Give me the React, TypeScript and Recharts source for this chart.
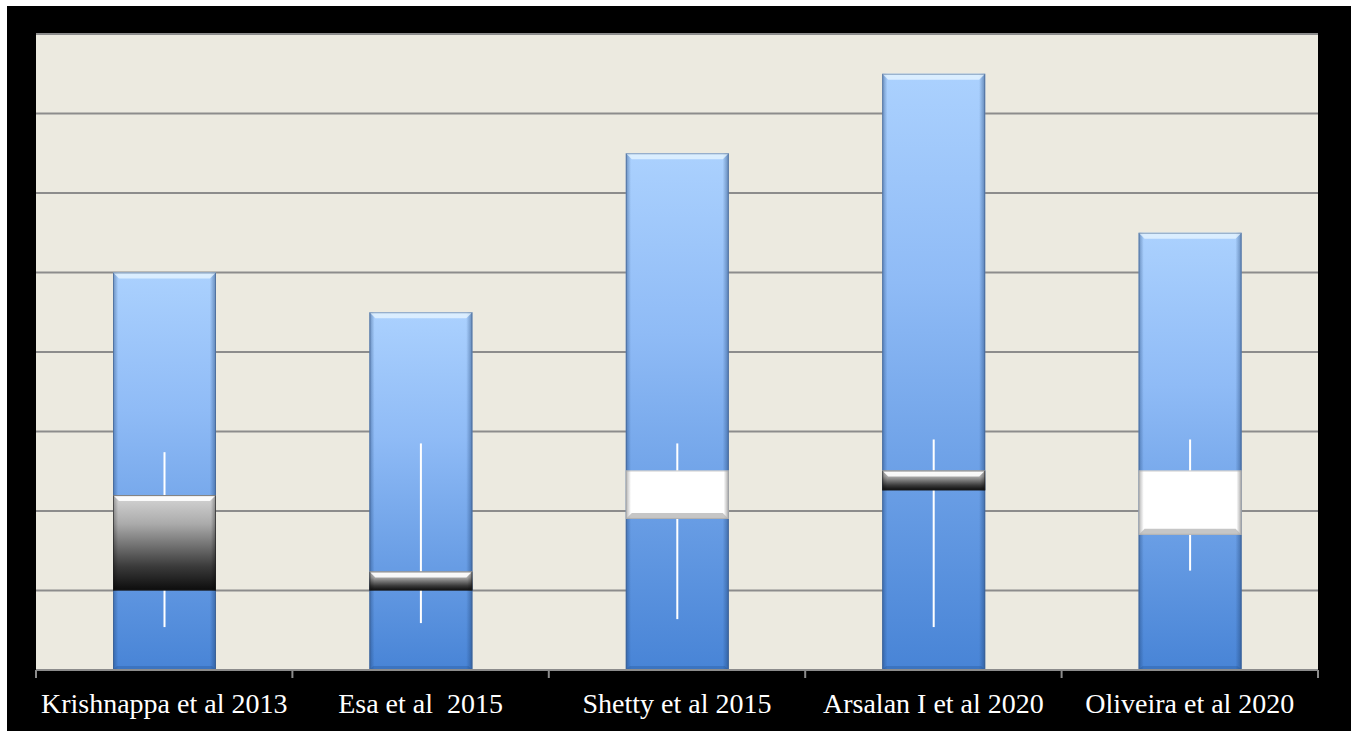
import React from "react";
import { ComposedChart, Bar, XAxis, YAxis, CartesianGrid } from "recharts";

// study labels along the bottom axis
const studies = [
  "Krishnappa et al 2013",
  "Esa et al  2015",
  "Shetty et al 2015",
  "Arsalan I et al 2020",
  "Oliveira et al 2020",
];

// blue "volume" columns
const totals = [5.0, 4.5, 6.5, 7.5, 5.5];
// open / close boxes and high / low whiskers
const opens = [2.2, 1.24, 1.9, 2.51, 1.7];
const closes = [1.0, 1.0, 2.51, 2.26, 2.51];
const highs = [2.74, 2.85, 2.85, 2.9, 2.9];
const lows = [0.54, 0.59, 0.64, 0.54, 1.25];

const yTicks = [0, 1, 2, 3, 4, 5, 6, 7, 8];

const chartData = studies.map((name, i) => ({
  name,
  total: totals[i],
  box: [Math.min(opens[i], closes[i]), Math.max(opens[i], closes[i])],
  range: [lows[i], highs[i]],
  rising: closes[i] > opens[i],
}));

const BAR = 103;

const BlueColumn = (props: any) => {
  const { x, y, width, height } = props;
  if (!height || height <= 0) return null;
  const b = 6;
  return (
    <g>
      <rect x={x} y={y} width={width} height={height} fill="url(#volFill)" />
      <rect x={x} y={y} width={width} height={height} fill="url(#volEdge)" />
      <polygon
        points={`${x},${y} ${x + width},${y} ${x + width - b},${y + b} ${x + b},${y + b}`}
        fill="#eaf7ff"
        opacity={0.75}
      />
      <polygon
        points={`${x},${y + height} ${x + width},${y + height} ${x + width - 4},${y + height - 4} ${x + 4},${y + height - 4}`}
        fill="#1f4f90"
        opacity={0.3}
      />
      <rect
        x={x + 0.5}
        y={y + 0.5}
        width={width - 1}
        height={height - 1}
        fill="none"
        stroke="#3f5f88"
        strokeOpacity={0.55}
      />
    </g>
  );
};

const Whisker = (props: any) => {
  const { x, y, width, height } = props;
  if (!height || height <= 0) return null;
  return <rect x={x + width / 2 - 1} y={y} width={2} height={height} fill="#ffffff" />;
};

const CandleBox = (props: any) => {
  const { x, y, width, height, payload } = props;
  if (!height || height <= 0) return null;
  const b = Math.min(6, height / 3);
  if (payload.rising) {
    return (
      <g>
        <rect x={x} y={y} width={width} height={height} fill="#ffffff" />
        <rect x={x} y={y} width={width} height={height} fill="url(#boxEdge)" />
        <polygon
          points={`${x},${y + height} ${x + width},${y + height} ${x + width - b},${y + height - b} ${x + b},${y + height - b}`}
          fill="#b8b8b8"
          opacity={0.8}
        />
        <rect
          x={x + 0.5}
          y={y + 0.5}
          width={width - 1}
          height={height - 1}
          fill="none"
          stroke="#a0a0a0"
          strokeOpacity={0.6}
        />
      </g>
    );
  }
  return (
    <g>
      <rect x={x} y={y} width={width} height={height} fill="url(#downFill)" />
      <rect x={x} y={y} width={width} height={height} fill="url(#boxEdge)" />
      <polygon
        points={`${x},${y} ${x + width},${y} ${x + width - b},${y + b} ${x + b},${y + b}`}
        fill="#ffffff"
        opacity={0.9}
      />
      <rect
        x={x + 0.5}
        y={y + 0.5}
        width={width - 1}
        height={height - 1}
        fill="none"
        stroke="#202020"
        strokeOpacity={0.6}
      />
    </g>
  );
};

const StudyTick = (props: any) => {
  const { x, y, payload, index } = props;
  const half = payload.offset ?? 128;
  return (
    <g>
      <line x1={x - half} y1={y} x2={x - half} y2={y + 8} stroke="#8c8c8c" strokeWidth={2} />
      {index === studies.length - 1 && (
        <line x1={x + half} y1={y} x2={x + half} y2={y + 8} stroke="#8c8c8c" strokeWidth={2} />
      )}
      <text
        x={x}
        y={y + 43}
        textAnchor="middle"
        fill="#ffffff"
        fontFamily="'Liberation Serif', serif"
        fontSize={28}
        style={{ whiteSpace: "pre" }}
      >
        {payload.value}
      </text>
    </g>
  );
};

export default function App() {
  return (
    <div
      style={{
        position: "absolute",
        left: 7,
        top: 6,
        width: 1344,
        height: 725,
        background: "#000000",
      }}
    >
      <ComposedChart
        width={1344}
        height={725}
        data={chartData}
        margin={{ top: 28, right: 33, left: 29, bottom: 0 }}
        barGap={-BAR}
      >
        <defs>
          <linearGradient id="volFill" x1="0" y1="0" x2="0" y2="1">
            <stop offset="0%" stopColor="#abd1fe" />
            <stop offset="35%" stopColor="#8fbbf6" />
            <stop offset="100%" stopColor="#4884d6" />
          </linearGradient>
          <linearGradient id="volEdge" x1="0" y1="0" x2="1" y2="0">
            <stop offset="0%" stopColor="#1c3f70" stopOpacity={0.45} />
            <stop offset="5%" stopColor="#1c3f70" stopOpacity={0} />
            <stop offset="94%" stopColor="#1c3f70" stopOpacity={0} />
            <stop offset="100%" stopColor="#1c3f70" stopOpacity={0.5} />
          </linearGradient>
          <linearGradient id="downFill" x1="0" y1="0" x2="0" y2="1">
            <stop offset="0%" stopColor="#d6d6d6" />
            <stop offset="30%" stopColor="#ababab" />
            <stop offset="75%" stopColor="#3a3a3a" />
            <stop offset="100%" stopColor="#0c0c0c" />
          </linearGradient>
          <linearGradient id="boxEdge" x1="0" y1="0" x2="1" y2="0">
            <stop offset="0%" stopColor="#000000" stopOpacity={0.3} />
            <stop offset="5%" stopColor="#000000" stopOpacity={0} />
            <stop offset="95%" stopColor="#000000" stopOpacity={0} />
            <stop offset="100%" stopColor="#000000" stopOpacity={0.35} />
          </linearGradient>
        </defs>
        <CartesianGrid
          vertical={false}
          fill="#eceae0"
          stroke="#8c8c8c"
          strokeWidth={2}
        />
        <XAxis
          dataKey="name"
          height={61}
          interval={0}
          tickLine={false}
          tickSize={0}
          tickMargin={0}
          axisLine={{ stroke: "#8c8c8c", strokeWidth: 2 }}
          tick={<StudyTick />}
        />
        <YAxis hide domain={[0, 8]} ticks={yTicks} />
        <Bar
          dataKey="total"
          barSize={BAR}
          shape={<BlueColumn />}
          isAnimationActive={false}
        />
        <Bar
          dataKey="range"
          barSize={BAR}
          shape={<Whisker />}
          isAnimationActive={false}
        />
        <Bar
          dataKey="box"
          barSize={BAR}
          shape={<CandleBox />}
          isAnimationActive={false}
        />
      </ComposedChart>
    </div>
  );
}
